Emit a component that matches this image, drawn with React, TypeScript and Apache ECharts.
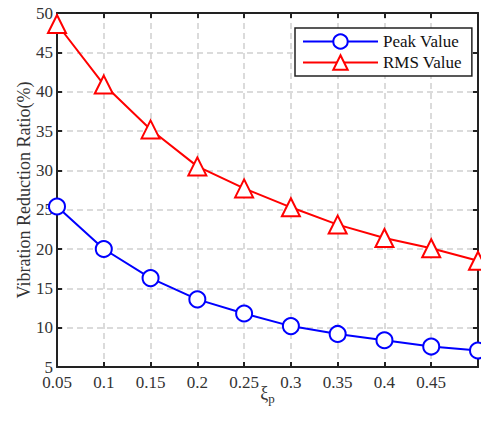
import React, { useEffect, useRef } from "react";
import * as echarts from "echarts";

const xValues = [0.05, 0.1, 0.15, 0.2, 0.25, 0.3, 0.35, 0.4, 0.45, 0.5];
const peakValues = [25.4, 20.0, 16.3, 13.6, 11.8, 10.2, 9.2, 8.4, 7.6, 7.1];
const rmsValues = [48.6, 40.9, 35.2, 30.5, 27.7, 25.3, 23.1, 21.4, 20.1, 18.5];
const seriesNames = ["Peak Value", "RMS Value"];

const FONT = "Liberation Serif";

export default function App() {
  const ref = useRef<HTMLDivElement>(null);
  useEffect(() => {
    if (!ref.current) return;
    const chart = echarts.init(ref.current, null, { renderer: "svg" });
    const gridLine = { show: true, lineStyle: { color: "#d0d0d0", type: [6, 4] as any, width: 1.5 } };
    const axisLine = { show: true, onZero: false, lineStyle: { color: "#222", width: 2 } };
    const axisTick = { show: true, inside: true, length: 5, lineStyle: { color: "#222", width: 2 } };
    chart.setOption({
      animation: false,
      backgroundColor: "#fff",
      textStyle: { fontFamily: FONT },
      grid: { left: 57, right: 1, top: 13, bottom: 56, containLabel: false },
      legend: {
        orient: "vertical",
        left: 295,
        top: 28,
        data: seriesNames,
        backgroundColor: "#fff",
        borderColor: "#222",
        borderWidth: 1.5,
        borderRadius: 0,
        padding: [5, 10, 5, 7],
        itemGap: 4,
        itemWidth: 75,
        itemHeight: 18,
        textStyle: { fontFamily: FONT, fontSize: 17, color: "#111" },
      },
      xAxis: [
        {
          type: "value",
          min: 0.05,
          max: 0.5,
          interval: 0.05,
          name: "{a|ξ}{b|p}",
          nameLocation: "middle",
          nameGap: 13,
          nameMoveOverlap: false,
          nameTextStyle: {
            rich: {
              a: { fontFamily: FONT, fontSize: 18, color: "#333" },
              b: { fontFamily: FONT, fontSize: 13, color: "#333", verticalAlign: "bottom", padding: [12, 0, 0, 0] },
            },
          },
          axisLine,
          axisTick,
          splitLine: gridLine,
          axisLabel: {
            fontFamily: FONT,
            fontSize: 17,
            lineHeight: 14,
            color: "#333",
            margin: 8,
            formatter: (v: number) => (v > 0.49 ? "" : String(Math.round(v * 100) / 100)),
          },
        },
        {
          type: "value",
          position: "top",
          min: 0.05,
          max: 0.5,
          interval: 0.05,
          axisLine,
          axisTick,
          axisLabel: { show: false },
          splitLine: { show: false },
        },
      ],
      yAxis: [
        {
          type: "value",
          min: 5,
          max: 50,
          interval: 5,
          name: "Vibration Reduction Ratio(%)",
          nameLocation: "middle",
          nameGap: 24,
          nameMoveOverlap: false,
          nameTextStyle: { fontFamily: FONT, fontSize: 18, color: "#333" },
          axisLine,
          axisTick,
          splitLine: gridLine,
          axisLabel: { fontFamily: FONT, fontSize: 17, lineHeight: 12, color: "#333", margin: 4 },
        },
        {
          type: "value",
          position: "right",
          min: 5,
          max: 50,
          interval: 5,
          axisLine,
          axisTick,
          axisLabel: { show: false },
          splitLine: { show: false },
        },
      ],
      series: [
        {
          name: seriesNames[0],
          type: "line",
          data: xValues.map((x, i) => [x, peakValues[i]]),
          symbol: "emptyCircle",
          symbolSize: 16,
          color: "#0000ff",
          lineStyle: { width: 2, color: "#0000ff" },
          itemStyle: { color: "#0000ff", borderWidth: 2 },
        },
        {
          name: seriesNames[1],
          type: "line",
          data: xValues.map((x, i) => [x, rmsValues[i]]),
          symbol: "emptyTriangle",
          symbolSize: 18,
          color: "#ff0000",
          lineStyle: { width: 2, color: "#ff0000" },
          itemStyle: { color: "#ff0000", borderWidth: 2 },
        },
      ],
    });
    return () => chart.dispose();
  }, []);
  return <div ref={ref} style={{ width: 481, height: 423, position: "absolute", left: 0, top: 0 }} />;
}
